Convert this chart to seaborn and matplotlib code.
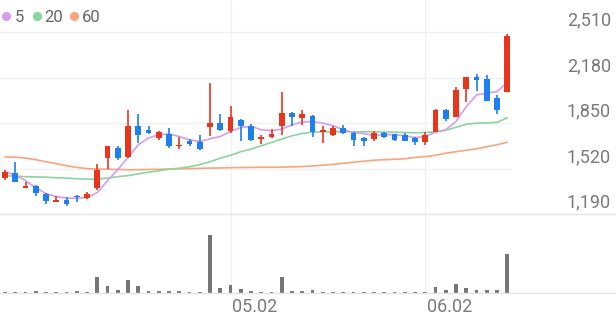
import matplotlib
matplotlib.use("Agg")
import matplotlib.pyplot as plt
import seaborn as sns
import numpy as np
import pandas as pd
from matplotlib.lines import Line2D

# ---------------- data ----------------
dates = ["04.01", "04.02", "04.03", "04.04", "04.07", "04.08", "04.09", "04.10", "04.11", "04.14",
         "04.15", "04.16", "04.17", "04.18", "04.21", "04.22", "04.23", "04.24", "04.25", "04.28",
         "04.29", "04.30", "05.02", "05.07", "05.08", "05.09", "05.12", "05.13", "05.14", "05.15",
         "05.16", "05.19", "05.20", "05.21", "05.22", "05.23", "05.26", "05.27", "05.28", "05.29",
         "05.30", "06.02", "06.04", "06.05", "06.09", "06.10", "06.11", "06.12", "06.13", "06.16"]

opens = [1448, 1487, 1383, 1390, 1338, 1280, 1294, 1323, 1306, 1379,
         1596, 1670, 1600, 1830, 1796, 1741, 1772, 1680, 1721, 1709,
         1820, 1849, 1793, 1873, 1830, 1736, 1748, 1825, 1922, 1885,
         1902, 1784, 1765, 1817, 1781, 1738, 1736, 1777, 1770, 1765,
         1741, 1712, 1788, 1946, 1897, 2095, 2182, 2168, 2030, 2078]
highs = [1511, 1567, 1419, 1403, 1340, 1323, 1314, 1328, 1347, 1550,
         1685, 1685, 1942, 1914, 1825, 1790, 1813, 1752, 1733, 1765,
         2143, 1914, 1974, 1880, 1844, 1765, 1806, 2078, 1927, 1946,
         1910, 1825, 1830, 1837, 1786, 1745, 1791, 1788, 1772, 1777,
         1752, 1788, 1953, 1953, 2114, 2187, 2204, 2199, 2054, 2493]
lows = [1439, 1420, 1383, 1318, 1263, 1278, 1251, 1275, 1299, 1361,
        1516, 1579, 1598, 1705, 1770, 1728, 1668, 1663, 1685, 1656,
        1757, 1790, 1777, 1716, 1721, 1700, 1741, 1765, 1830, 1837,
        1752, 1705, 1757, 1770, 1685, 1685, 1716, 1741, 1716, 1716,
        1692, 1692, 1784, 1861, 1895, 2001, 2083, 2006, 1914, 2078]
closes = [1492, 1422, 1390, 1343, 1282, 1294, 1265, 1314, 1338, 1511,
          1680, 1596, 1830, 1760, 1777, 1788, 1680, 1692, 1700, 1661,
          1849, 1796, 1890, 1825, 1728, 1748, 1772, 1922, 1893, 1914,
          1788, 1796, 1813, 1777, 1728, 1716, 1777, 1745, 1728, 1721,
          1709, 1765, 1946, 1878, 2090, 2182, 2163, 2011, 1946, 2481]

ma5 = [1495, 1475, 1432, 1381, 1338, 1316, 1305, 1305, 1309, 1345,
       1432, 1511, 1602, 1692, 1741, 1765, 1770, 1752, 1728, 1716,
       1736, 1752, 1789, 1817, 1825, 1801, 1794, 1806, 1837, 1857,
       1861, 1849, 1830, 1801, 1781, 1772, 1760, 1765, 1765, 1757,
       1745, 1752, 1784, 1801, 1861, 1969, 2054, 2066, 2078, 2146]
ma20 = [1468, 1464, 1461, 1459, 1457, 1453, 1450, 1446, 1443, 1443,
        1450, 1461, 1468, 1482, 1493, 1504, 1515, 1522, 1533, 1548,
        1569, 1595, 1616, 1642, 1660, 1685, 1709, 1734, 1757, 1774,
        1784, 1786, 1786, 1786, 1786, 1786, 1786, 1784, 1783, 1781,
        1779, 1781, 1786, 1797, 1819, 1841, 1849, 1851, 1855, 1888]
ma60 = [1603, 1602, 1596, 1584, 1569, 1555, 1540, 1528, 1519, 1516,
        1515, 1513, 1511, 1511, 1513, 1514, 1516, 1517, 1519, 1521,
        1523, 1524, 1526, 1527, 1528, 1529, 1529, 1530, 1532, 1534,
        1539, 1544, 1550, 1558, 1566, 1573, 1580, 1584, 1587, 1591,
        1600, 1606, 1616, 1631, 1642, 1652, 1663, 1678, 1692, 1710]

volumes = [3, 3, 3, 5, 4, 3, 3, 5, 3, 48,
           22, 8, 38, 22, 5, 6, 6, 5, 3, 3,
           173, 15, 24, 12, 5, 3, 3, 48, 6, 6,
           9, 4, 3, 3, 3, 3, 3, 3, 3, 3,
           3, 3, 18, 9, 27, 14, 8, 8, 8, 118]

price_ticks = [1190, 1520, 1850, 2180, 2510]
date_ticks = ["05.02", "06.02"]
ma_labels = ["5", "20", "60"]

# ---------------- style ----------------
sns.set_theme(style="white")
plt.rcParams["font.family"] = ["Roboto", "DejaVu Sans"]

RED = "#e8361c"
BLUE = "#1d7ff0"
MA_COLORS = ["#d79ced", "#8ad69c", "#f8a57d"]
GRID = "#f1f1f1"
BORDER = "#e4e4e4"
TXT = "#7a7a7a"

W, H = 616, 321
fig = plt.figure(figsize=(W / 100, H / 100), dpi=100)
fig.patch.set_facecolor("white")


def fy(py):
    return 1 - py / H


PX_PER_UNIT = 45.5 / 330.0          # price scale
AX_RIGHT = 512
ax = fig.add_axes([0, fy(214), AX_RIGHT / W, 214 / H])
axv = fig.add_axes([0, fy(293), AX_RIGHT / W, (293 - 214) / H])

n = len(dates)
idx = np.arange(n)
df = pd.DataFrame({"i": idx, "date": dates, "open": opens, "high": highs,
                   "low": lows, "close": closes, "ma5": ma5, "ma20": ma20,
                   "ma60": ma60, "vol": volumes})

# price axes
ax.set_xlim(-0.49, 49.46)
ax.set_ylim(1190, 1190 + 214 / PX_PER_UNIT)
for p in price_ticks[1:]:
    ax.axhline(p, color=GRID, lw=1.0, zorder=0)

tick_pos = [dates.index(d) for d in date_ticks]
for t in tick_pos:
    ax.axvline(t, color=GRID, lw=1.0, zorder=0)
    axv.axvline(t, color=GRID, lw=1.0, zorder=0)

# moving averages
for col, c in zip(["ma60", "ma20", "ma5"], MA_COLORS[::-1]):
    sns.lineplot(data=df, x="i", y=col, ax=ax, color=c, lw=1.2, zorder=2,
                 legend=False)

# candles
min_body = 1.4 / PX_PER_UNIT
for i, o, h, l, c in zip(idx, opens, highs, lows, closes):
    col = RED if c >= o else BLUE
    ax.vlines(i, l, h, color=col, lw=1.2, zorder=3)
    body = max(abs(c - o), min_body)
    bottom = min(o, c) if abs(c - o) >= min_body else (o + c) / 2 - body / 2
    ax.bar(i, body, bottom=bottom, width=0.56, color=col, lw=0, zorder=4)

ax.set_xlim(-0.49, 49.46)
ax.axis("off")

# price labels at right, above gridlines
for p in price_ticks:
    ax.annotate(f"{p:,}", xy=(1, p), xycoords=("axes fraction", "data"),
                xytext=(99 * 0.72, 6.3 * 0.72), textcoords="offset points",
                ha="right", va="baseline", fontsize=13, color=TXT,
                annotation_clip=False)

# volume
sns.barplot(data=df, x="i", y="vol", ax=axv, color="#767676", width=0.36,
            native_scale=True, saturation=1, zorder=3, linewidth=0)
axv.set_xlim(-0.49, 49.46)
axv.set_ylim(0, (293 - 214) * 3)
axv.axis("off")

# border lines (full width)
fig.add_artist(Line2D([0, 1], [fy(214), fy(214)], color=BORDER, lw=1.0))
fig.add_artist(Line2D([0, 1], [fy(293), fy(293)], color=BORDER, lw=1.0))

# date labels
for t, d in zip(tick_pos, date_ticks):
    axv.annotate(d, xy=(t, 0), xycoords="data", xytext=(1.5 * 0.72, -19 * 0.72),
                 textcoords="offset points", ha="left", va="baseline",
                 fontsize=13, color=TXT, annotation_clip=False)

# legend
dot_x = [6, 37, 74]
txt_x = [14.5, 44.5, 81.5]
for dx, tx, c, lab in zip(dot_x, txt_x, MA_COLORS, ma_labels):
    fig.add_artist(Line2D([dx / W], [fy(15.5)], marker="o", ms=6.6, color=c,
                          mew=0, ls=""))
    fig.text(tx / W, fy(21.5), lab, ha="left", va="baseline", fontsize=12,
             color="#666666")

fig.savefig("out.png", dpi=100, facecolor="white")
